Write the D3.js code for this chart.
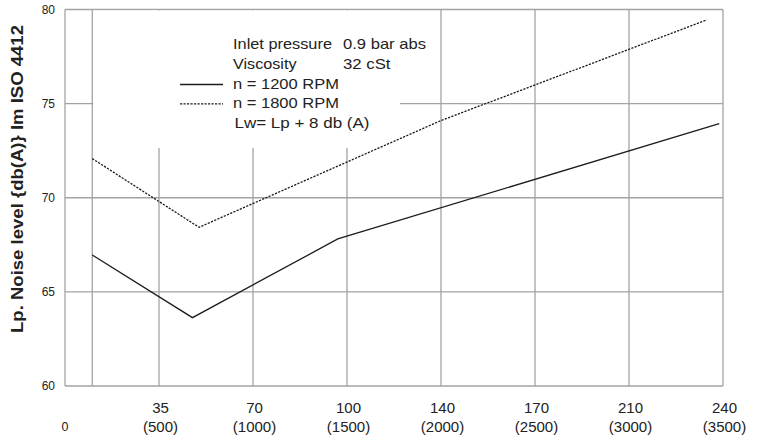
<!DOCTYPE html>
<html>
<head>
<meta charset="utf-8">
<script src="https://cdn.jsdelivr.net/npm/d3@7"></script>
<style>
  body { margin: 0; background: #fff; }
  svg { display: block; font-family: "Liberation Sans", Arial, sans-serif; }
  .grid { stroke: #a3a3a3; stroke-width: 1.3; fill: none; }
  .series { fill: none; stroke: #1c1c1c; stroke-width: 1.3; }
  text { fill: #222; }
</style>
</head>
<body>
<div id="chart"></div>
<script>
// x values are pressure in psi, labels show bar on top and psi below
const xTicks = [500, 1000, 1500, 2000, 2500, 3000, 3500];
const barLabels = ['35', '70', '100', '140', '170', '210', '240'];
const psiLabels = ['(500)', '(1000)', '(1500)', '(2000)', '(2500)', '(3000)', '(3500)'];
const yTicks = [60, 65, 70, 75, 80];
const startPsi = 145;

const psi1200 = [145, 678, 1451, 3480];
const noise1200 = [66.96, 63.63, 67.81, 73.94];
const psi1800 = [145, 713, 2000, 3414];
const noise1800 = [72.08, 68.43, 74.1, 79.45];

const infoLabels = ['Inlet pressure', 'Viscosity'];
const infoValues = ['0.9 bar abs', '32 cSt'];
const seriesNames = ['n = 1200 RPM', 'n = 1800 RPM'];
const noteText = 'Lw= Lp + 8 db (A)';

let margin = { top: 9.5, left: 65, right: 43, bottom: 56 },
    width = 766,
    height = 442;

let svg = d3.select('#chart')
    .append('svg')
    .attr('width', width)
    .attr('height', height);

let x = d3.scaleLinear()
    .domain([0, 3500])
    .range([margin.left, width - margin.right]);

let y = d3.scaleLinear()
    .domain([60, 80])
    .range([height - margin.bottom, margin.top]);

// horizontal grid lines (also top and bottom frame)
svg.selectAll('.hgrid')
    .data(yTicks).enter()
    .append('line')
    .attr('class', 'grid')
    .attr('x1', x(0)).attr('x2', x(3500))
    .attr('y1', d => y(d)).attr('y2', d => y(d));

// vertical grid lines (frame + start line)
svg.selectAll('.vgrid')
    .data([0, startPsi].concat(xTicks)).enter()
    .append('line')
    .attr('class', 'grid')
    .attr('x1', d => x(d)).attr('x2', d => x(d))
    .attr('y1', y(80)).attr('y2', y(60));

// white box behind the legend text
svg.append('rect')
    .attr('x', x(startPsi) + 1)
    .attr('y', y(80) + 1)
    .attr('width', 400 - x(startPsi) - 1)
    .attr('height', 148 - y(80) - 1)
    .attr('fill', '#fff');

// y tick labels
svg.selectAll('.ylab')
    .data(yTicks).enter()
    .append('text')
    .attr('x', 55)
    .attr('y', d => y(d))
    .attr('dy', '0.35em')
    .attr('text-anchor', 'end')
    .style('font-size', '12px')
    .text(d => d);

// x tick labels, two rows
svg.selectAll('.xlab1')
    .data(xTicks).enter()
    .append('text')
    .attr('x', d => x(d) + 1.5)
    .attr('y', 412.5)
    .attr('text-anchor', 'middle')
    .style('font-size', '15px')
    .text((d, i) => barLabels[i]);

svg.selectAll('.xlab2')
    .data(xTicks).enter()
    .append('text')
    .attr('x', d => x(d) + 1.5)
    .attr('y', 432)
    .attr('text-anchor', 'middle')
    .style('font-size', '15px')
    .text((d, i) => psiLabels[i]);

svg.append('text')
    .attr('x', x(0))
    .attr('y', 431)
    .attr('text-anchor', 'middle')
    .style('font-size', '12.5px')
    .text('0');

// y axis title
svg.append('text')
    .attr('transform', 'translate(23,179) rotate(-90)')
    .attr('text-anchor', 'middle')
    .attr('textLength', 308)
    .attr('lengthAdjust', 'spacingAndGlyphs')
    .style('font-size', '17px')
    .style('font-weight', 'bold')
    .text('Lp. Noise level {db(A)} Im ISO 4412');

// series lines
let line = d3.line()
    .x(d => x(d[0]))
    .y(d => y(d[1]));

svg.append('path')
    .attr('class', 'series')
    .attr('d', line(d3.zip(psi1200, noise1200)));

svg.append('path')
    .attr('class', 'series')
    .attr('stroke-dasharray', '2.2,1.3')
    .attr('d', line(d3.zip(psi1800, noise1800)));

// legend block, the print is a bit wide so stretch text to fit
let legend = svg.append('g').style('font-size', '15px');

function legendText(tx, ty, len, str) {
    legend.append('text')
        .attr('x', tx).attr('y', ty)
        .attr('textLength', len)
        .attr('lengthAdjust', 'spacingAndGlyphs')
        .text(str);
}

legendText(233, 49, 99, infoLabels[0]);
legendText(343, 49, 83, infoValues[0]);
legendText(233, 69, 63.5, infoLabels[1]);
legendText(343, 69, 47.5, infoValues[1]);

seriesNames.forEach((s, i) => {
    let yy = 89 + i * 19.3;
    legend.append('line')
        .attr('class', 'series')
        .attr('x1', 180).attr('x2', 223)
        .attr('y1', yy - 4.5).attr('y2', yy - 4.5)
        .attr('stroke-dasharray', i === 1 ? '2.2,1.3' : null);
    legendText(233, yy, 106, s);
});

legendText(234.5, 128.3, 135, noteText);
</script>
</body>
</html>
